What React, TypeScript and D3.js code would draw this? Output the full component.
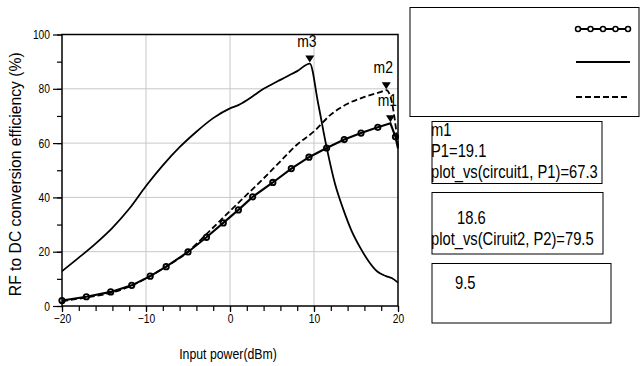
import React, { useEffect, useRef } from 'react';
import * as d3 from 'd3';

// circuit1 (circles)
const p1 = [-20, -17.1, -14.2, -11.7, -9.5, -7.6, -5.0, -2.8, -0.8, 1.0, 2.7, 5.1, 7.3, 9.4, 11.5, 13.6, 15.6, 17.6, 19.1, 19.7, 20];
const eff1 = [2.0, 3.4, 5.2, 7.6, 11.0, 14.5, 19.9, 25.3, 30.6, 35.4, 40.2, 45.5, 50.6, 54.8, 58.2, 61.3, 63.7, 65.8, 67.3, 62.3, 58];

// Ciruit2 (dashed)
const p2 = [-20, -17, -14, -11.7, -9.5, -7.6, -5, -2.8, 0, 2, 4, 6, 8, 10, 12, 14, 16, 18, 18.6, 19.2, 19.6, 20];
const eff2 = [1.8, 3.2, 5.0, 7.5, 11.0, 14.5, 20.0, 26.5, 35.0, 41.0, 47.0, 53.3, 59.5, 64.3, 70.5, 74.5, 77.0, 78.9, 79.5, 76.0, 69.0, 59.0];

// circuit3 (solid)
const p3 = [-20, -18, -16, -14, -12, -10, -8, -6, -4, -2, 0, 1, 2, 3, 4, 5, 6, 7, 8, 9.5, 10.5, 11.5, 12.5, 13.5, 14.5, 15.5, 16.5, 17.5, 18.5, 19.3, 20];
const eff3 = [12.8, 17.8, 23.0, 28.8, 35.8, 44.2, 51.8, 58.5, 64.2, 69.2, 72.8, 74.0, 75.8, 77.9, 80.0, 81.7, 83.3, 84.9, 86.5, 89.3, 74.5, 58.5, 45.0, 35.5, 27.5, 21.5, 16.5, 12.8, 11.1, 10.2, 8.6];

const xTicks = [-20, -10, 0, 10, 20];
const yTicks = [0, 20, 40, 60, 80, 100];

const markers = [
  { name: 'm3', x: 9.5, y: 89.3 },
  { name: 'm2', x: 18.6, y: 79.5 },
  { name: 'm1', x: 19.1, y: 67.3 },
];

const readout1 = ['m1', 'P1=19.1', 'plot_vs(circuit1, P1)=67.3'];
const readout2 = ['18.6', 'plot_vs(Ciruit2, P2)=79.5'];
const readout3 = ['9.5'];

const SANS = "'Liberation Sans', Arial, sans-serif";
const SQ = 0.82; // squeeze to mimic a narrow face

function App() {
  const ref = useRef(null);

  useEffect(() => {
    const svg = d3.select(ref.current);
    svg.selectAll('*').remove();

    const x = d3.scaleLinear().domain([-20, 20]).range([62, 398]);
    const y = d3.scaleLinear().domain([0, 100]).range([306, 34.5]);

    const narrow = (tx, ty, size, t, anchor = 'start') =>
      svg.append('text')
        .attr('transform', `translate(${tx},${ty}) scale(${SQ},1)`)
        .attr('text-anchor', anchor)
        .attr('font-family', SANS).attr('font-size', size)
        .text(t);

    // grid
    const grid = svg.append('g').attr('stroke', '#c8c8c8').attr('stroke-width', 1);
    [-10, 0, 10].forEach(v => {
      grid.append('line').attr('x1', x(v)).attr('x2', x(v)).attr('y1', y(0)).attr('y2', y(100));
    });
    [20, 40, 60, 80].forEach(v => {
      grid.append('line').attr('x1', x(-20)).attr('x2', x(20)).attr('y1', y(v)).attr('y2', y(v));
    });

    // minor ticks
    svg.append('g')
      .attr('transform', `translate(0,${y(0)})`)
      .call(d3.axisBottom(x).tickValues(d3.range(-20, 21, 2)).tickSize(5).tickFormat(() => ''))
      .call(g => g.select('.domain').remove())
      .selectAll('line').attr('stroke', '#000').attr('stroke-width', 1.2);
    svg.append('g')
      .attr('transform', `translate(${x(-20)},0)`)
      .call(d3.axisLeft(y).tickValues(d3.range(0, 101, 10)).tickSize(5).tickFormat(() => ''))
      .call(g => g.select('.domain').remove())
      .selectAll('line').attr('stroke', '#000').attr('stroke-width', 1.2);

    // major axes
    const xAxis = svg.append('g')
      .attr('transform', `translate(0,${y(0)})`)
      .call(d3.axisBottom(x).tickValues(xTicks).tickSize(6).tickPadding(2).tickSizeOuter(0));
    xAxis.select('.domain').remove();
    xAxis.selectAll('line').attr('stroke', '#000').attr('stroke-width', 1.2);
    xAxis.selectAll('text').attr('font-family', SANS).attr('font-size', 12.5).attr('fill', '#000')
      .attr('transform', `scale(${SQ},1)`);

    const yAxis = svg.append('g')
      .attr('transform', `translate(${x(-20)},0)`)
      .call(d3.axisLeft(y).tickValues(yTicks).tickSize(9).tickPadding(3).tickSizeOuter(0));
    yAxis.select('.domain').remove();
    yAxis.selectAll('line').attr('stroke', '#000').attr('stroke-width', 1.2);
    yAxis.selectAll('text').attr('font-family', SANS).attr('font-size', 12.5).attr('fill', '#000')
      .attr('x', -12 / SQ).attr('transform', `scale(${SQ},1)`);

    // frame
    svg.append('rect')
      .attr('x', x(-20)).attr('y', y(100))
      .attr('width', x(20) - x(-20)).attr('height', y(0) - y(100))
      .attr('fill', 'none').attr('stroke', '#000').attr('stroke-width', 1.5);

    // curves
    const curve = (xs, ys, c) => d3.line().x((d, i) => x(xs[i])).y(d => y(d)).curve(c)(ys);

    svg.append('path')
      .attr('d', curve(p3, eff3, d3.curveMonotoneX))
      .attr('fill', 'none').attr('stroke', '#000').attr('stroke-width', 1.8);

    svg.append('path')
      .attr('d', curve(p2, eff2, d3.curveMonotoneX))
      .attr('fill', 'none').attr('stroke', '#000').attr('stroke-width', 1.8)
      .attr('stroke-dasharray', '6,3');

    svg.append('path')
      .attr('d', curve(p1, eff1, d3.curveLinear))
      .attr('fill', 'none').attr('stroke', '#000').attr('stroke-width', 2.1);

    svg.append('g')
      .selectAll('circle')
      .data(eff1.map((v, i) => ({ px: p1[i], v })).filter(d => d.px !== 19.1 && d.px !== 20))
      .join('circle')
      .attr('cx', d => x(d.px))
      .attr('cy', d => y(d.v))
      .attr('r', 2.7)
      .attr('fill', 'none')
      .attr('stroke', '#000')
      .attr('stroke-width', 1.8);

    // markers
    markers.forEach(m => {
      const mx = x(m.x), my = y(m.y) - 1;
      svg.append('path')
        .attr('d', `M${mx},${my}L${mx - 4.5},${my - 7}L${mx + 4.5},${my - 7}Z`)
        .attr('fill', '#000');
      narrow(mx - 3, y(m.y) - 17, 17, m.name, 'middle');
    });

    // axis titles
    svg.append('text')
      .attr('transform', `translate(21,${y(50) + 4}) rotate(-90)`)
      .attr('text-anchor', 'middle')
      .attr('font-family', SANS).attr('font-size', 15.7)
      .text('RF to DC conversion efficiency (%)');
    narrow(228, 359, 15, 'Input power(dBm)', 'middle');

    // legend box
    svg.append('rect').attr('x', 410).attr('y', 7.5).attr('width', 229).attr('height', 109)
      .attr('fill', 'none').attr('stroke', '#000').attr('stroke-width', 1);
    const lx = d3.scaleLinear().domain([0, 4]).range([578, 628]);
    svg.append('line').attr('x1', 576).attr('x2', 630).attr('y1', 29).attr('y2', 29)
      .attr('stroke', '#000').attr('stroke-width', 1.8);
    svg.append('g').selectAll('circle').data([0, 1, 2, 3, 4]).join('circle')
      .attr('cx', d => lx(d)).attr('cy', 29).attr('r', 2.5)
      .attr('fill', '#fff').attr('stroke', '#000').attr('stroke-width', 1.5);
    svg.append('line').attr('x1', 576).attr('x2', 630).attr('y1', 62).attr('y2', 62)
      .attr('stroke', '#000').attr('stroke-width', 1.8);
    svg.append('line').attr('x1', 576).attr('x2', 630).attr('y1', 97).attr('y2', 97)
      .attr('stroke', '#000').attr('stroke-width', 1.8).attr('stroke-dasharray', '6,3');

    // readout boxes
    const box = (bx, by, bw, bh, lines, tx, baselines) => {
      svg.append('rect').attr('x', bx).attr('y', by).attr('width', bw).attr('height', bh)
        .attr('fill', 'none').attr('stroke', '#000').attr('stroke-width', 1);
      lines.forEach((t, i) => narrow(tx[i], baselines[i], 18, t));
    };
    box(432, 121.5, 170, 62, readout1, [431, 431, 431], [136, 157, 178]);
    box(432, 192.5, 171, 61.5, readout2, [457, 431], [224, 245]);
    box(432, 263.5, 179, 59.5, readout3, [455], [289]);

  }, []);

  return (
    <div style={{ position: 'absolute', left: 0, top: 0 }}>
      <svg ref={ref} width={644} height={366} style={{ display: 'block', background: '#fff' }} />
    </div>
  );
}

export default App;
